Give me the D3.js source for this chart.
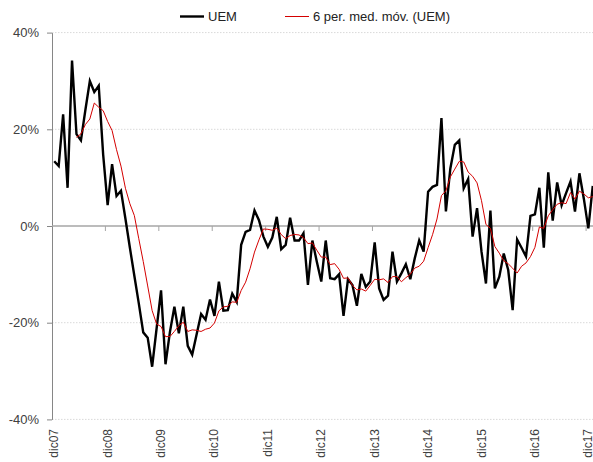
<!DOCTYPE html>
<html>
<head>
<meta charset="utf-8">
<script src="https://cdn.jsdelivr.net/npm/d3@7"></script>
<style>
  html, body { margin: 0; padding: 0; background: #fff; }
  svg { display: block; font-family: "Liberation Sans", Arial, sans-serif; }
</style>
</head>
<body>
<svg id="chart" width="593" height="462"></svg>
<script>
// Monthly year-on-year change, UEM (%), dic07 onwards
const monthNames = ["ene","feb","mar","abr","may","jun","jul","ago","sep","oct","nov","dic"];
const uem = [
  13.4, 12.4, 23.1, 7.9, 34.2, 19.0, 17.7, 24.0, 30.0, 27.7, 29.0, 14.7,
  4.3, 12.8, 6.2, 7.3, 1.5, -4.5, -10.3, -16.0, -22.0, -23.1, -29.1, -21.2,
  -13.3, -28.6, -21.9, -16.7, -22.2, -16.7, -24.8, -26.6, -22.4, -18.2, -19.4, -15.2,
  -18.6, -11.5, -17.5, -17.4, -14.0, -15.7, -3.9, -1.2, -0.8, 3.2, 1.2, -2.2,
  -4.3, -2.4, 1.9, -4.8, -3.9, 1.7, -3.0, -3.0, -1.5, -12.2, -3.0, -7.4,
  -11.5, -3.0, -10.8, -11.0, -10.0, -18.6, -11.0, -12.2, -16.5, -9.9, -12.6, -11.5,
  -3.4, -12.9, -15.3, -14.4, -5.3, -11.5, -9.8, -7.9, -11.0, -6.7, -3.0, -5.3,
  7.1, 8.1, 8.5, 22.3, 3.0, 11.9, 16.8, 17.7, 7.8, 9.7, -2.2, 3.7,
  -5.3, -11.9, 3.2, -12.9, -10.5, -5.7, -9.1, -17.4, -2.8, -4.5, -6.3, 2.1,
  2.4, 7.9, -4.5, 11.1, 1.1, 9.0, 4.3, 6.8, 9.2, 3.0, 10.9, 5.6,
  -0.5, 8.3
];
const yTicks = [-40, -20, 0, 20, 40];
const maPeriod = 6;
const seriesNames = ["UEM", "6 per. med. móv. (UEM)"];

// month labels starting at dic07
const categories = uem.map((_, i) => {
  const m = (11 + i) % 12;
  const yr = 7 + Math.floor((11 + i) / 12);
  return monthNames[m] + String(yr).padStart(2, "0");
});

// trailing 6-period moving average (starts once a full window is available)
const movAvg = uem.map((v, i) => i < maPeriod - 1 ? null : d3.mean(uem.slice(i - maPeriod + 1, i + 1)));

const svg = d3.select("#chart");
const plotLeft = 52, plotRight = 595, plotTop = 32.6, plotBottom = 419.4;

const x = d3.scaleBand().domain(d3.range(uem.length)).range([plotLeft, plotRight]);
const xc = i => x(i) + x.bandwidth() / 2;
const y = d3.scaleLinear().domain([-40, 40]).range([plotBottom, plotTop]);

// horizontal gridlines
svg.append("g")
  .selectAll("line")
  .data(yTicks.filter(t => t !== 0))
  .join("line")
  .attr("x1", plotLeft).attr("x2", 593)
  .attr("y1", d => y(d)).attr("y2", d => y(d))
  .attr("stroke", "#d9d9d9")
  .attr("stroke-width", 1)
  .attr("stroke-dasharray", "1.5,1.5");

// y axis
const yAxis = svg.append("g")
  .attr("transform", `translate(${plotLeft},0)`)
  .call(d3.axisLeft(y).tickValues(yTicks).tickSize(5).tickSizeOuter(0).tickFormat(d => d + "%"));
yAxis.select(".domain").attr("stroke", "#868686");
yAxis.selectAll(".tick line").attr("stroke", "#868686");
yAxis.selectAll(".tick text")
  .attr("x", -13)
  .attr("fill", "#404040")
  .style("font-size", "13px")
  .style("font-family", "'Liberation Sans', Arial, sans-serif");

// zero line with yearly tick marks
const yearIdx = d3.range(12, uem.length, 12);
svg.append("line")
  .attr("x1", plotLeft).attr("x2", 593)
  .attr("y1", y(0)).attr("y2", y(0))
  .attr("stroke", "#a6a6a6").attr("stroke-width", 1.5);
svg.append("g")
  .selectAll("line")
  .data(yearIdx)
  .join("line")
  .attr("x1", d => x(d)).attr("x2", d => x(d))
  .attr("y1", y(0)).attr("y2", y(0) + 5)
  .attr("stroke", "#a6a6a6").attr("stroke-width", 1);

// category labels, one per year, rotated
const labelIdx = d3.range(0, uem.length, 12);
svg.append("g")
  .selectAll("text")
  .data(labelIdx)
  .join("text")
  .attr("transform", d => `translate(${Math.min(xc(d) + 4, 591.5)},429) rotate(-90)`)
  .attr("text-anchor", "end")
  .attr("fill", "#404040")
  .style("font-size", "12px")
  .text(d => categories[d]);

// series lines
const line = d3.line()
  .defined(d => d != null)
  .x((d, i) => xc(i))
  .y(d => y(d));

svg.append("path")
  .datum(uem)
  .attr("fill", "none")
  .attr("stroke", "#000")
  .attr("stroke-width", 2.4)
  .attr("stroke-linejoin", "miter")
  .attr("d", line);

svg.append("path")
  .datum(movAvg)
  .attr("fill", "none")
  .attr("stroke", "#d40000")
  .attr("stroke-width", 1)
  .attr("d", line);

// legend
const legend = svg.append("g");
legend.append("line").attr("x1", 180).attr("x2", 204).attr("y1", 16.5).attr("y2", 16.5)
  .attr("stroke", "#000").attr("stroke-width", 2.4);
legend.append("text").attr("x", 208).attr("y", 21).attr("fill", "#222")
  .style("font-size", "13px").text(seriesNames[0]);
legend.append("line").attr("x1", 285).attr("x2", 309).attr("y1", 16.5).attr("y2", 16.5)
  .attr("stroke", "#d40000").attr("stroke-width", 1);
legend.append("text").attr("x", 313).attr("y", 21).attr("fill", "#222")
  .style("font-size", "13px").text(seriesNames[1]);
</script>
</body>
</html>
